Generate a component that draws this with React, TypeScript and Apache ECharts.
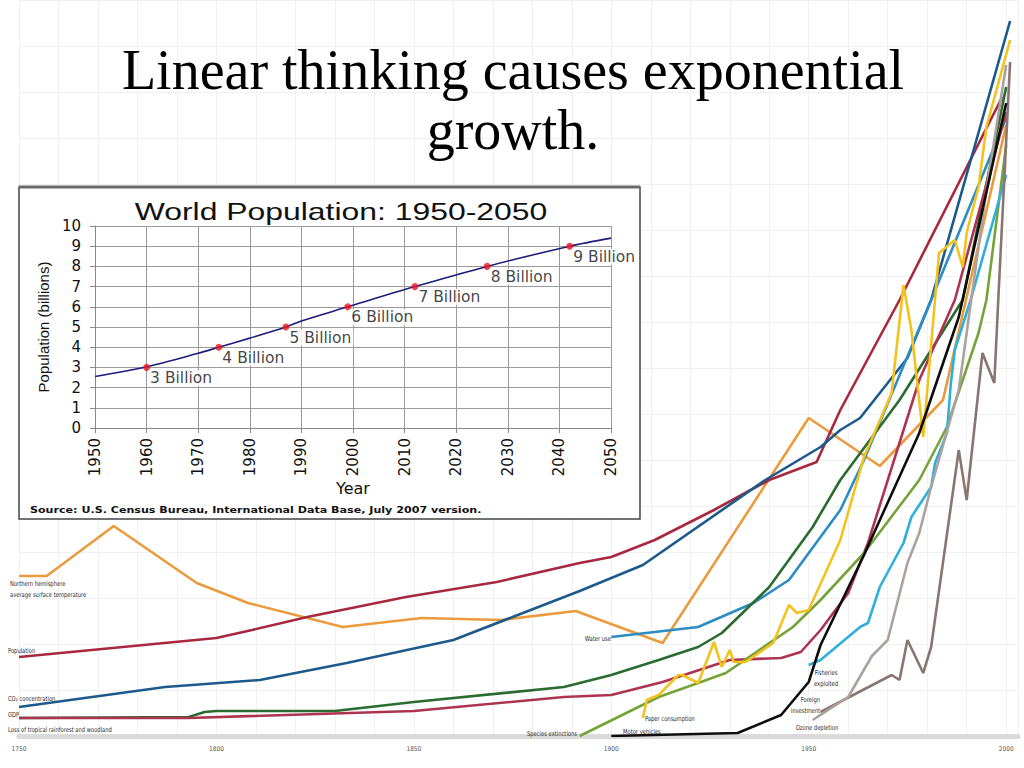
import { useEffect, useRef } from 'react';
import * as echarts from 'echarts';

// ---------- Background chart ("great acceleration") data: [year, relative index] ----------
const temperature = [[1750,160],[1757,160],[1774,210],[1795,153],[1808,133],[1832,109],[1852,118],[1872,116],[1891,125],[1913,93],[1950,318],[1968,270],[1984,336],[2000,611]];
const population = [[1750,79],[1800,98],[1809,106],[1823,119],[1848,139],[1871,154],[1892,173],[1900,179],[1911,196],[1926,226],[1940,256],[1952,274],[1958,326],[1973,436],[1999,639]];
const co2 = [[1750,29],[1787,49],[1811,56],[1833,73],[1860,96],[1875,119],[1892,145],[1908,171],[1939,256],[1953,289],[1958,306],[1963,318],[1975,378],[1981,436],[2001,715]];
const waterUse = [[1900,99],[1922,109],[1936,133],[1945,156],[1958,226],[1964,276],[1981,436],[2000,618]];
const gdp = [[1750,18],[1793,19],[1797,24],[1800,25],[1830,25],[1850,34],[1888,49],[1900,61],[1912,76],[1922,89],[1928,103],[1940,149],[1951,209],[1958,256],[1973,336],[1989,436],[2000,649]];
const rainforest = [[1750,18],[1793,18],[1850,25],[1888,39],[1900,41],[1913,54],[1930,76],[1943,78],[1948,84],[1953,106],[1960,143],[1965,193],[1978,356],[1987,436],[2000,624]];
const species = [[1892,0],[1912,39],[1922,53],[1929,63],[1946,109],[1953,136],[1964,183],[1978,256],[1985,309],[1993,403],[1995,436],[2000,591]];
const motorVehicles = [[1900,0],[1932,3],[1943,21],[1950,54],[1953,91],[1964,181],[1978,303],[1988,419],[2000,633]];
const paper = [[1908,18],[1909,36],[1912,41],[1917,61],[1918,61],[1922,53],[1926,94],[1928,69],[1930,86],[1931,74],[1934,74],[1941,93],[1945,131],[1947,123],[1950,126],[1958,196],[1964,279],[1971,343],[1974,451],[1976,406],[1979,299],[1983,483],[1987,496],[1989,469],[1990,503],[1993,549],[1995,609],[2001,696]];
const fisheries = [[1950,71],[1953,76],[1963,109],[1965,113],[1968,149],[1974,193],[1976,219],[1981,249],[1982,273],[1985,303],[1986,353],[1987,386],[1991,436],[2000,561]];
const foreignInvestment = [[1953,24],[1971,61],[1973,56],[1975,96],[1979,63],[1981,89],[1988,286],[1990,236],[1994,383],[1997,353],[1998,436],[2001,674]];
const ozone = [[1951,16],[1960,39],[1966,80],[1970,96],[1975,173],[1978,203],[1981,249],[1988,346],[1995,546],[2000,671]];

const bgLines = [
  { name: 'Northern hemisphere average surface temperature', data: temperature, color: '#eb9b3d' },
  { name: 'Population', data: population, color: '#a8283f' },
  { name: 'CO2 concentration', data: co2, color: '#1d5a8c' },
  { name: 'Water use', data: waterUse, color: '#2c8cc4' },
  { name: 'GDP', data: gdp, color: '#2a6b30' },
  { name: 'Loss of tropical rainforest and woodland', data: rainforest, color: '#ad3450' },
  { name: 'Species extinctions', data: species, color: '#76a23a' },
  { name: 'Paper consumption', data: paper, color: '#f2c31e' },
  { name: 'Fisheries exploited', data: fisheries, color: '#2fb0dc' },
  { name: 'Foreign investment', data: foreignInvestment, color: '#8a7670' },
  { name: 'Ozone depletion', data: ozone, color: '#aba29e' },
  { name: 'Motor vehicles', data: motorVehicles, color: '#0d0d0d' },
];

// ---------- Inset: World Population 1950-2050 ----------
const popYears = [1950, 1960, 1970, 1974, 1980, 1987, 1990, 1999, 2000, 2012, 2026, 2042, 2050];
const popBillions = [2.55, 3.03, 3.7, 4.0, 4.45, 5.0, 5.3, 6.0, 6.08, 7.0, 8.0, 9.0, 9.4];
const milestoneYears = [1960, 1974, 1987, 1999, 2012, 2026, 2042];
const milestoneBillions = [3, 4, 5, 6, 7, 8, 9];

const slideTitle = ['Linear thinking causes exponential', 'growth.'];
const insetTitle = 'World Population: 1950-2050';
const sourceNote = 'Source: U.S. Census Bureau, International Data Base, July 2007 version.';

const NARROW = "'Liberation Sans Narrow', 'DejaVu Sans Condensed', sans-serif";

function note(text: string, x: number, y: number, align: string = 'left') {
  return {
    type: 'text', x, y, z: 5, scaleX: 0.85,
    style: {
      text, fill: '#2a2a2a', fontSize: 6.8, fontFamily: NARROW, lineHeight: 11,
      align, textAlign: align, verticalAlign: 'middle', textVerticalAlign: 'middle',
    },
  };
}

export default function App() {
  const ref = useRef<HTMLDivElement>(null);
  useEffect(() => {
    const chart = echarts.init(ref.current!, null, { renderer: 'svg' });
    const option: any = {
      animation: false,
      backgroundColor: '#ffffff',
      grid: [
        { left: 19, right: 6, top: 0, bottom: 32 },
        { left: 95, top: 226, width: 516, height: 202 },
      ],
      xAxis: [
        {
          gridIndex: 0, type: 'value', min: 1750, max: 2003, interval: 10, z: 0,
          axisLine: { lineStyle: { color: '#dadada', width: 5 } },
          axisTick: { show: false },
          axisLabel: {
            fontSize: 6.5, color: '#555', margin: 9, fontFamily: NARROW,
            formatter: (v: number) => (v % 50 === 0 ? String(v) : ''),
          },
          splitLine: { show: true, lineStyle: { color: '#f1f1f1' } },
        },
        {
          gridIndex: 1, type: 'value', min: 1950, max: 2050, interval: 10, z: 60,
          name: 'Year', nameLocation: 'middle', nameGap: 42,
          nameTextStyle: { fontSize: 16, color: '#111', fontFamily: "'DejaVu Sans', sans-serif" },
          axisLine: { lineStyle: { color: '#888' } },
          axisTick: { show: true, length: 5, lineStyle: { color: '#888' } },
          axisLabel: {
            rotate: 90, fontSize: 15, color: '#111', margin: 10, fontFamily: "'DejaVu Sans', sans-serif",
            formatter: (v: number) => String(v),
          },
          splitLine: { show: true, lineStyle: { color: '#9a9a9a' } },
        },
      ],
      yAxis: [
        {
          gridIndex: 0, type: 'value', min: 0, max: 736, interval: 46, z: 0,
          axisLine: { show: false }, axisTick: { show: false }, axisLabel: { show: false },
          splitLine: { show: true, lineStyle: { color: '#f1f1f1' } },
        },
        {
          gridIndex: 1, type: 'value', min: 0, max: 10, interval: 1, z: 60,
          name: 'Population (billions)', nameLocation: 'middle', nameGap: 44,
          nameTextStyle: { fontSize: 15, color: '#111', fontFamily: "'Liberation Sans', sans-serif" },
          axisLine: { lineStyle: { color: '#888' } },
          axisTick: { show: true, length: 5, lineStyle: { color: '#888' } },
          axisLabel: { fontSize: 15, color: '#111', margin: 14, fontFamily: "'DejaVu Sans', sans-serif" },
          splitLine: { show: true, lineStyle: { color: '#9a9a9a' } },
        },
      ],
      series: [
        ...bgLines.map((s) => ({
          type: 'line', name: s.name, xAxisIndex: 0, yAxisIndex: 0, data: s.data,
          symbol: 'none', z: 2, lineStyle: { color: s.color, width: 2.6 }, itemStyle: { color: s.color },
        })),
        {
          type: 'line', name: 'World population', xAxisIndex: 1, yAxisIndex: 1, z: 70,
          data: popYears.map((y, i) => [y, popBillions[i]]), smooth: 0.3, symbol: 'none',
          lineStyle: { color: '#1c1c7a', width: 1.6 },
        },
        {
          type: 'scatter', name: 'Milestones', xAxisIndex: 1, yAxisIndex: 1, z: 71,
          data: milestoneYears.map((y, i) => [y, milestoneBillions[i]]),
          symbolSize: 7, itemStyle: { color: '#ee1520' },
          label: {
            show: true, position: [5, 6], formatter: (p: any) => `${p.value[1]} Billion`,
            fontSize: 15.5, color: '#111', fontFamily: "'DejaVu Sans', sans-serif",
            backgroundColor: '#fff', padding: [0, 2],
          },
        },
      ],
      graphic: [
        // series annotations of the background chart
        note('Northern hemisphere\naverage surface temperature', 10, 589),
        note('Population', 8, 650),
        note('CO\u2082 concentration', 8, 698),
        note('GDP', 8, 714),
        note('Loss of tropical rainforest and woodland', 8, 729),
        note('Water use', 611, 638, 'right'),
        note('Species extinctions', 577, 733, 'right'),
        note('Motor vehicles', 623, 731),
        note('Paper consumption', 645, 718),
        note('Fisheries\nexploited', 826, 678, 'center'),
        note('Foreign\ninvestment', 820, 705, 'right'),
        note('Ozone depletion', 817, 727, 'center'),
        // inset box
        {
          type: 'rect', z: 50, shape: { x: 19, y: 187, width: 621, height: 332 },
          style: { fill: '#ffffff', stroke: '#444', lineWidth: 1.5 },
        },
        {
          type: 'line', z: 51, shape: { x1: 19, y1: 187, x2: 640, y2: 187 },
          style: { stroke: '#6a6a6a', lineWidth: 3 },
        },
        {
          type: 'text', z: 65, x: 341, y: 212, scaleX: 1.33,
          style: {
            text: insetTitle, fill: '#111', fontSize: 24, fontFamily: "'Liberation Sans', sans-serif",
            align: 'center', textAlign: 'center', verticalAlign: 'middle', textVerticalAlign: 'middle',
          },
        },
        {
          type: 'text', z: 65, x: 30, y: 509, scaleX: 1.17,
          style: {
            text: sourceNote, fill: '#111', fontSize: 9.5, fontWeight: 'bold', fontFamily: "'DejaVu Sans', sans-serif",
            align: 'left', textAlign: 'left', verticalAlign: 'middle', textVerticalAlign: 'middle',
          },
        },
        // slide title
        ...slideTitle.map((t, i) => ({
          type: 'text', z: 100, x: 513, y: 70 + i * 60,
          style: {
            text: t, fill: '#000', fontSize: 56, fontFamily: "'Liberation Serif', serif",
            align: 'center', textAlign: 'center', verticalAlign: 'middle', textVerticalAlign: 'middle',
          },
        })),
      ],
    };
    chart.setOption(option);
    return () => chart.dispose();
  }, []);
  return (
    <div
      ref={ref}
      style={{ position: 'fixed', left: 0, top: 0, width: 1024, height: 768, background: '#fff' }}
    />
  );
}
